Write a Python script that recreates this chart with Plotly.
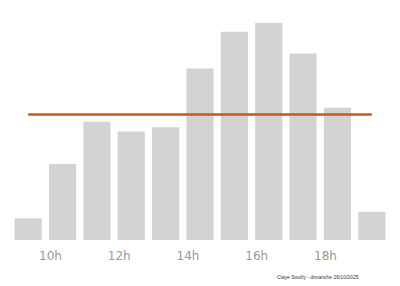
import numpy as np
import plotly.graph_objects as go

hours = [9, 10, 11, 12, 13, 14, 15, 16, 17, 18, 19]
affluence = [10, 35, 54.5, 50, 52, 79, 96, 100, 86, 61, 13]
tick_hours = [10, 12, 14, 16, 18]
tick_text = ["10h", "12h", "14h", "16h", "18h"]
caption = "Claye Souilly - dimanche 26/10/2025"

mean_val = float(np.mean(affluence))
tick_pos = [h - 0.35 for h in tick_hours]

fig = go.Figure()
fig.add_trace(go.Bar(x=hours, y=affluence, marker=dict(color="#d3d3d3", line=dict(width=0)),
                     hoverinfo="skip"))
fig.add_trace(go.Scatter(x=[hours[0], hours[-1]], y=[mean_val, mean_val], mode="lines",
                         line=dict(color="#c9561a", width=2.5), hoverinfo="skip"))

fig.update_layout(
    width=400, height=286,
    margin=dict(l=11, r=11, t=0, b=46),
    paper_bgcolor="white", plot_bgcolor="white",
    showlegend=False, bargap=0.21,
    xaxis=dict(range=[8.5, 19.5], tickmode="array", tickvals=tick_pos, ticktext=tick_text,
               showgrid=False, zeroline=False, showline=False, ticks="",
               ticklabelstandoff=7,
               tickfont=dict(family="DejaVu Sans", size=12, color="#999999")),
    yaxis=dict(range=[0, 110.6], visible=False, showgrid=False, zeroline=False),
    annotations=[dict(text=caption, xref="x domain", yref="paper",
                      x=(318 - 11) / 378, y=-(277 - 240) / 240,
                      xanchor="center", yanchor="middle", showarrow=False,
                      font=dict(family="Liberation Sans", size=5, color="#333333"))],
)
fig.write_html("out.html")
